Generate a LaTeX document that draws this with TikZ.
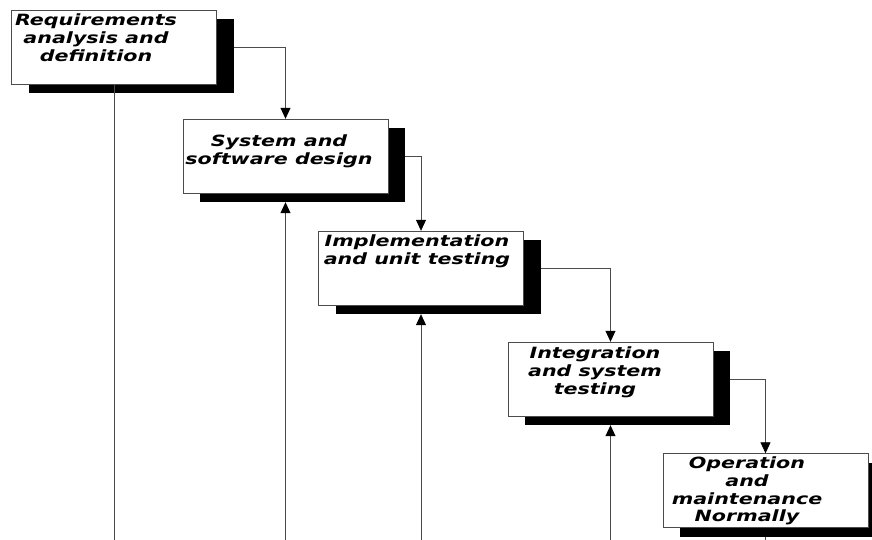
\documentclass[tikz,border=0pt]{standalone}
\usepackage{fontspec}
\newfontfamily\phasefont[FakeStretch=1.33]{DejaVu Sans}
\usetikzlibrary{shadows,arrows.meta}

\tikzset{
  phase/.style={draw=black!70, fill=white, minimum width=205pt, minimum height=74pt, inner sep=0pt,
    drop shadow={shadow xshift=17pt, shadow yshift=-9pt, fill=black, opacity=1}},
  phasetext/.style={anchor=north, inner sep=0pt, align=center,
    font=\phasefont\fontsize{15.5}{17.8}\selectfont\bfseries\itshape},
  flow/.style={draw=black!70, line width=0.8pt, -{Triangle[length=11pt,width=10pt,black]}},
  back/.style={draw=black!70, line width=0.8pt},
}

\begin{document}
\begin{tikzpicture}[x=1pt, y=-1pt]
    \useasboundingbox (0,0) rectangle (872,540);
    \coordinate (bottom) at (0,540);

    % Requirements
    \node[phase] (req) at (114,47) {};
    \node[phasetext] (reqtext) at (96,13.5) {Requirements\\analysis and\\definition};

    % Design
    \node[phase] (design) at (285.5,156) {};
    \node[phasetext] (designtext) at (279,134.5) {System and\\software design};

    % Implementation
    \node[phase] (impl) at (421,268) {};
    \node[phasetext] (impltext) at (417,234.5) {Implementation\\and unit testing};

    % Integration
    \node[phase] (integ) at (610.5,379) {};
    \node[phasetext] (integtext) at (595,346.5) {Integration\\and system\\testing};

    % Operation
    \node[phase] (oper) at (765.5,490.5) {};
    \node[phasetext] (opertext) at (747,456.5) {Operation\\and\\maintenance\\Normally};

    % Forward steps
    \draw[flow] ([xshift=17pt]req.east) -| (design.north);
    \draw[flow] ([xshift=17pt]design.east) -| (impl.north);
    \draw[flow] ([xshift=17pt]impl.east) -| (integ.north);
    \draw[flow] ([xshift=17pt]integ.east) -| (oper.north);

    % Lines from below
    \draw[back] (req.south) -- (req.south |- bottom);
    \draw[flow] (design.south |- bottom) -- ([yshift=-9pt]design.south);
    \draw[flow] (impl.south |- bottom) -- ([yshift=-9pt]impl.south);
    \draw[flow] (integ.south |- bottom) -- ([yshift=-9pt]integ.south);
    \draw[back] ([yshift=-9pt]oper.south) -- (oper.south |- bottom);

\end{tikzpicture}
\end{document}
